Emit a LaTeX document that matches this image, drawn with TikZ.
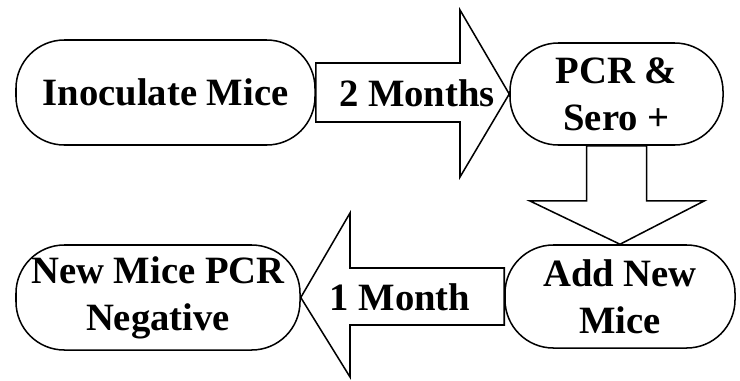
\documentclass[tikz,border=0pt]{standalone}
\usepackage{fontspec}
\setmainfont{Liberation Serif}
\usetikzlibrary{calc}

\begin{document}
\begin{tikzpicture}[x=0.03cm,y=-0.03cm]
 \tikzstyle{pill}=[draw,rounded corners=1.45cm,line width=1.3pt,inner sep=0pt,align=center,font=\bfseries\fontsize{33}{40}\selectfont]
 \tikzstyle{fleche}=[draw,line width=1.3pt,fill=white]
 \tikzstyle{duree}=[inner sep=0pt,font=\bfseries\fontsize{33}{40}\selectfont]
 \useasboundingbox (0,0) rectangle (740,380);
 %
 \node[pill,minimum width=8.97cm,minimum height=3.15cm] (inoc) at (165.5,92.5) {Inoculate Mice};
 \node[pill,minimum width=6.39cm,minimum height=3.06cm] (pcr) at (616.5,94) {PCR \&\\ Sero +};
 \node[pill,minimum width=6.9cm,minimum height=3.09cm] (add) at (620,296.5) {Add New\\ Mice};
 \node[pill,minimum width=8.52cm,minimum height=3.15cm] (neg) at (158,297.5) {New Mice PCR\\ Negative};
 %
 \draw[fleche] (inoc.east |- 0,63) -- (460,63) -- (460,10) -- (pcr.west) -- (460,177) -- (460,122) -- (inoc.east |- 0,122) -- cycle;
 \draw[fleche] ($(pcr.south)+(-30,0)$) -- ($(pcr.south)+(-30,55)$) -- ($(pcr.south)+(-87,55)$) -- (add.north) -- ($(pcr.south)+(88,55)$) -- ($(pcr.south)+(30,55)$) -- ($(pcr.south)+(30,0)$) -- cycle;
 \draw[fleche] (add.west |- 0,268) -- (350,268) -- (350,213) -- (neg.east) -- (350,377) -- (350,325) -- (add.west |- 0,325) -- cycle;
 %
 \node[duree] (deux) at (417,93) {2 Months};
 \node[duree] (un) at (400,297) {1 Month};
\end{tikzpicture}
\end{document}
